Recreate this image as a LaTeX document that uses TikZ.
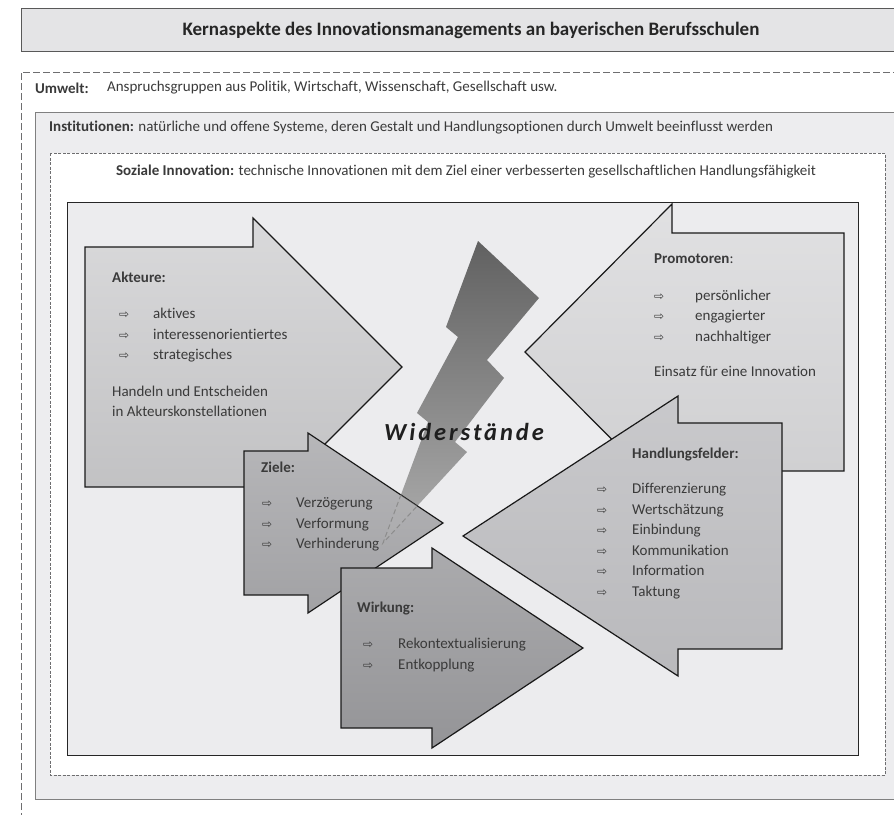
\documentclass[tikz,border=0pt]{standalone}
\usepackage{fontspec}
\setmainfont{Carlito}[Ligatures=NoCommon]
\newfontfamily\symfont{DejaVu Sans}
\newfontfamily\sperr{Carlito}[LetterSpace=12,Ligatures=NoCommon]
\usetikzlibrary{positioning}

\definecolor{txt}{HTML}{3A3A3A}
\definecolor{titelgrau}{HTML}{E4E4E6}
\definecolor{instgrau}{HTML}{EDEDEF}
\definecolor{innen}{HTML}{ECECEE}
\definecolor{strich}{HTML}{6E6E70}
\definecolor{akteur}{HTML}{D0D0D2}
\definecolor{promotor}{HTML}{D9D9DB}
\definecolor{ziel}{HTML}{AAAAAD}
\definecolor{feld}{HTML}{C3C3C6}
\definecolor{wirk}{HTML}{9C9C9F}

% Pfeil vor den Listenpunkten
\newcommand{\pf}[2]{\hspace*{#1}\makebox[#2][l]{\symfont\fontsize{12}{12}\selectfont ⇨}}
\newcommand{\blitz}{(478,241) -- (539,298) -- (487,360) -- (504,378) -- (455,442) -- (467,452) -- (383,543) -- (428,422) -- (417,413) -- (458,337) -- (446,327) -- cycle}
\newcommand{\zielpfad}{(244,451) -- (308,451) -- (308,433) -- (443,523) -- (308,613) -- (308,595) -- (244,595) -- cycle}

\begin{document}
\begin{tikzpicture}[x=1pt,y=-1pt]
\tikzset{lbl/.style={inner sep=0pt,text=txt,font=\fontsize{15}{20.5}\selectfont}}
\tikzset{hd/.style={lbl,font=\bfseries\fontsize{15}{20.5}\selectfont}}
\tikzset{blk/.style={lbl,align=left,anchor=north west}}
\tikzset{pfeil/.style={draw=black!90,line width=1.2pt,line join=miter}}

\useasboundingbox (0,0) rectangle (894,814);
\clip (0,0) rectangle (894,814);

  % Rahmen
  \draw[draw=black!65,fill=titelgrau,line width=1pt] (21,8) rectangle (910,51);
  \node[hd,text=black!85,font=\bfseries\fontsize{19}{21}\selectfont] (titel) at (471,30)
    {Kernaspekte des Innovationsmanagements an bayerischen Berufsschulen};

  \draw[draw=strich,dash pattern=on 7pt off 3pt,line width=.8pt] (21,830) -- (21,72) -- (910,72);
  \node[hd,anchor=west] (umw) at (35,88) {Umwelt:};
  \node[lbl,right=18pt of umw] (umwtxt) {Anspruchsgruppen aus Politik, Wirtschaft, Wissenschaft, Gesellschaft usw.};

  \draw[draw=black!50,fill=instgrau,line width=1pt] (35,112) rectangle (910,799);
  \node[lbl,anchor=west] (inst) at (49,128)
    {\textbf{Institutionen:} natürliche und offene Systeme, deren Gestalt und Handlungsoptionen durch Umwelt beeinflusst werden};

  \draw[draw=strich,fill=white,dash pattern=on 3pt off 1.5pt,line width=.7pt] (50,153) rectangle (885,775);
  \node[lbl] (soz) at (466,172)
    {\textbf{Soziale Innovation:} technische Innovationen mit dem Ziel einer verbesserten gesellschaftlichen Handlungsfähigkeit};

  \draw[draw=black!85,fill=innen,line width=1pt] (67,202) rectangle (858,755);

  % Pfeile
  \draw[pfeil,top color=akteur!80!white,bottom color=akteur!92!black] (85,247) -- (253,247) -- (253,218) -- (402,367) -- (253,516) -- (253,487) -- (85,487) -- cycle;
  \draw[pfeil,top color=promotor!80!white,bottom color=promotor!95!black] (844,233) -- (672,233) -- (672,204) -- (525,352) -- (672,500) -- (672,471) -- (844,471) -- cycle;
  \draw[pfeil,top color=feld!90!white,bottom color=feld!95!black] (782,423) -- (678,423) -- (678,396) -- (463,536) -- (678,676) -- (678,649) -- (782,649) -- cycle;

  % Blitz
  \shade[top color=black!62,bottom color=black!32] \blitz;

  \draw[pfeil,top color=ziel!85!white,bottom color=ziel!95!black] \zielpfad;
  \begin{scope}
    \clip \zielpfad;
    \draw[draw=black!45,fill=black!30,fill opacity=.35,dash pattern=on 5pt off 3pt,line width=1pt] \blitz;
  \end{scope}
  \draw[pfeil,top color=wirk!85!white,bottom color=wirk!95!black] (341,568) -- (432,568) -- (432,548) -- (583,648) -- (432,748) -- (432,728) -- (341,728) -- cycle;

  \node[text=black!88,inner sep=0pt,font=\sperr\bfseries\itshape\fontsize{24.5}{26}\selectfont] (wid) at (464,432) {Widerstände};

  % Texte
  \node[blk] (akt) at (112,272) {\textbf{Akteure:}\\[15.5pt]
    \pf{7pt}{34pt}aktives\\ \pf{7pt}{34pt}interessenorientiertes\\ \pf{7pt}{34pt}strategisches\\[16pt]
    Handeln und Entscheiden\\ in Akteurskonstellationen};
  \node[blk] (prom) at (654,254) {\textbf{Promotoren}:\\[16pt]
    \pf{0pt}{41pt}persönlicher\\ \pf{0pt}{41pt}engagierter\\ \pf{0pt}{41pt}nachhaltiger\\[14.5pt]
    Einsatz für eine Innovation};
  \node[blk] (hf) at (597,448) {\hspace*{35pt}\textbf{Handlungsfelder:}\\[14.5pt]
    \pf{0pt}{35pt}Differenzierung\\ \pf{0pt}{35pt}Wertschätzung\\ \pf{0pt}{35pt}Einbindung\\
    \pf{0pt}{35pt}Kommunikation\\ \pf{0pt}{35pt}Information\\ \pf{0pt}{35pt}Taktung};
  \node[blk] (ziele) at (261,462) {\textbf{Ziele:}\\[14.5pt]
    \pf{1pt}{34pt}Verzögerung\\ \pf{1pt}{34pt}Verformung\\ \pf{1pt}{34pt}Verhinderung};
  \node[blk] (wirkung) at (357,602) {\textbf{Wirkung:}\\[15.5pt]
    \pf{6pt}{35pt}Rekontextualisierung\\ \pf{6pt}{35pt}Entkopplung};
\end{tikzpicture}
\end{document}
